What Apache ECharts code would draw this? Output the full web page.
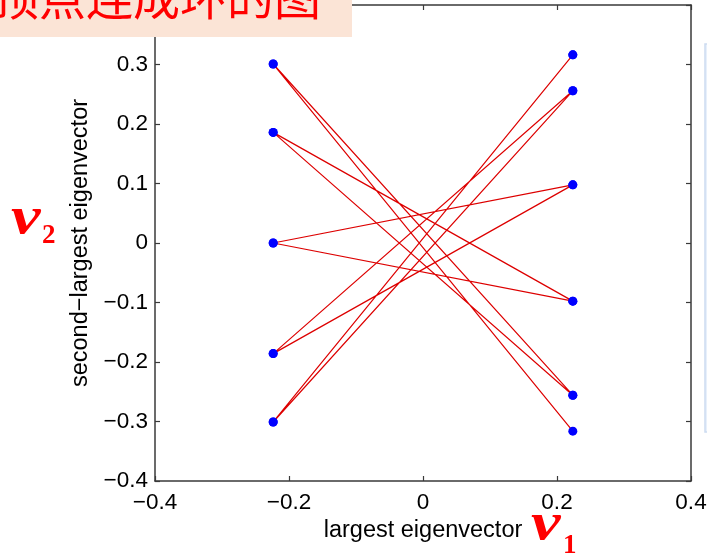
<!DOCTYPE html>
<html>
<head>
<meta charset="utf-8">
<script src="https://cdn.jsdelivr.net/npm/echarts@6/dist/echarts.min.js"></script>
<style>html,body{margin:0;padding:0;background:#fff}#c{width:707px;height:553px}</style>
</head>
<body>
<div id="c"></div>
<script>
// Ring graph nodes in cycle order: x = largest eigenvector, y = second-largest eigenvector
var ringX = [0.2236, -0.2236, 0.2236, -0.2236, 0.2236, -0.2236, 0.2236, -0.2236, 0.2236, -0.2236,
             0.2236, -0.2236, 0.2236, -0.2236, 0.2236, -0.2236, 0.2236, -0.2236, 0.2236, -0.2236];
var ringY = [0.3162, -0.3008, 0.2558, -0.1859, 0.0977, 0.0000, -0.0977, 0.1859, -0.2558, 0.3008,
             -0.3162, 0.3008, -0.2558, 0.1859, -0.0977, 0.0000, 0.0977, -0.1859, 0.2558, -0.3008];
var axisMin = -0.4, axisMax = 0.4, axisStep = 0.1, xAxisStep = 0.2;
var xName = 'largest eigenvector';
var yName = 'second\u2212largest eigenvector';
var titleText = '顶点连成环的图';

var pts = [];
for (var i = 0; i < ringX.length; i++) pts.push([ringX[i], ringY[i]]);
pts.push([ringX[0], ringY[0]]); // close the ring

function fmt(v) {
  if (Math.abs(v) < 1e-9) return '0';
  return (v < 0 ? '\u2212' : '') + Math.abs(v).toFixed(1);
}
var FONT = '"Liberation Sans", Arial, Helvetica, sans-serif';
var SERIF = '"Liberation Serif", "DejaVu Serif", serif';
var axisLineColor = '#3a3a3a';
function baseAxis(extra) {
  var a = {
    type: 'value', min: axisMin, max: axisMax,
    axisLine: { show: true, onZero: false, lineStyle: { color: axisLineColor, width: 1.5 } },
    axisTick: { show: true, inside: true, length: 5, lineStyle: { color: axisLineColor, width: 1.2 } },
    splitLine: { show: false },
    axisLabel: { show: true, color: '#000', fontSize: 22, fontFamily: FONT, formatter: fmt }
  };
  for (var k in extra) a[k] = extra[k];
  return a;
}

var chart = echarts.init(document.getElementById('c'), null, { renderer: 'canvas' });
chart.setOption({
  animation: false,
  backgroundColor: '#fff',
  grid: { left: 155, right: 16, top: 5, bottom: 72, containLabel: false, outerBoundsMode: 'none' },
  xAxis: [
    baseAxis({ position: 'bottom', interval: xAxisStep, name: xName, nameLocation: 'middle', nameGap: 29,
      nameTextStyle: { color: '#000', fontSize: 23.5, fontFamily: FONT },
      axisLabel: { show: true, color: '#000', fontSize: 22.5, fontFamily: FONT, formatter: fmt, margin: 10 } }),
    baseAxis({ position: 'top', interval: xAxisStep, axisLabel: { show: false } })
  ],
  yAxis: [
    baseAxis({ position: 'left', interval: axisStep, name: yName, nameLocation: 'middle', nameGap: 62, nameRotate: 90,
      nameTextStyle: { color: '#000', fontSize: 23.5, fontFamily: FONT },
      axisLabel: { show: true, color: '#000', fontSize: 22.5, fontFamily: FONT, formatter: fmt, margin: 7 } }),
    baseAxis({ position: 'right', interval: axisStep, axisLabel: { show: false } })
  ],
  series: [{
    type: 'line',
    xAxisIndex: 0, yAxisIndex: 0,
    data: pts,
    symbol: 'circle', symbolSize: 9, showSymbol: true,
    itemStyle: { color: '#0000ff' },
    lineStyle: { color: '#dd0000', width: 1.2 },
    silent: true
  }],
  graphic: [
    { type: 'rect', z: 100, shape: { x: 705, y: 44, width: 10, height: 388 },
      style: { fill: '#e8f0fb', stroke: '#cddcf1', lineWidth: 1.5 } },
    { type: 'rect', z: 100, shape: { x: 0, y: 0, width: 352, height: 37 },
      style: { fill: '#fbe4d6' } },
    { type: 'text', z: 101, x: -8, y: -3,
      style: { text: titleText, fill: '#ff0000', fontSize: 47, fontFamily: '"Noto Sans CJK SC", sans-serif',
        textAlign: 'left', textVerticalAlign: 'middle' } },
    { type: 'text', z: 101, x: 11, y: 246, scaleX: 1.28,
      style: { text: 'v', fill: '#ff0000', fontSize: 52, fontStyle: 'italic', fontWeight: 'bold',
        fontFamily: SERIF, textAlign: 'left', textVerticalAlign: 'bottom' } },
    { type: 'text', z: 101, x: 42, y: 250,
      style: { text: '2', fill: '#ff0000', fontSize: 27, fontWeight: 'bold',
        fontFamily: SERIF, textAlign: 'left', textVerticalAlign: 'bottom' } },
    { type: 'text', z: 101, x: 531, y: 552, scaleX: 1.28,
      style: { text: 'v', fill: '#ff0000', fontSize: 52, fontStyle: 'italic', fontWeight: 'bold',
        fontFamily: SERIF, textAlign: 'left', textVerticalAlign: 'bottom' } },
    { type: 'text', z: 101, x: 563, y: 560,
      style: { text: '1', fill: '#ff0000', fontSize: 27, fontWeight: 'bold',
        fontFamily: SERIF, textAlign: 'left', textVerticalAlign: 'bottom' } }
  ]
});
</script>
</body>
</html>
